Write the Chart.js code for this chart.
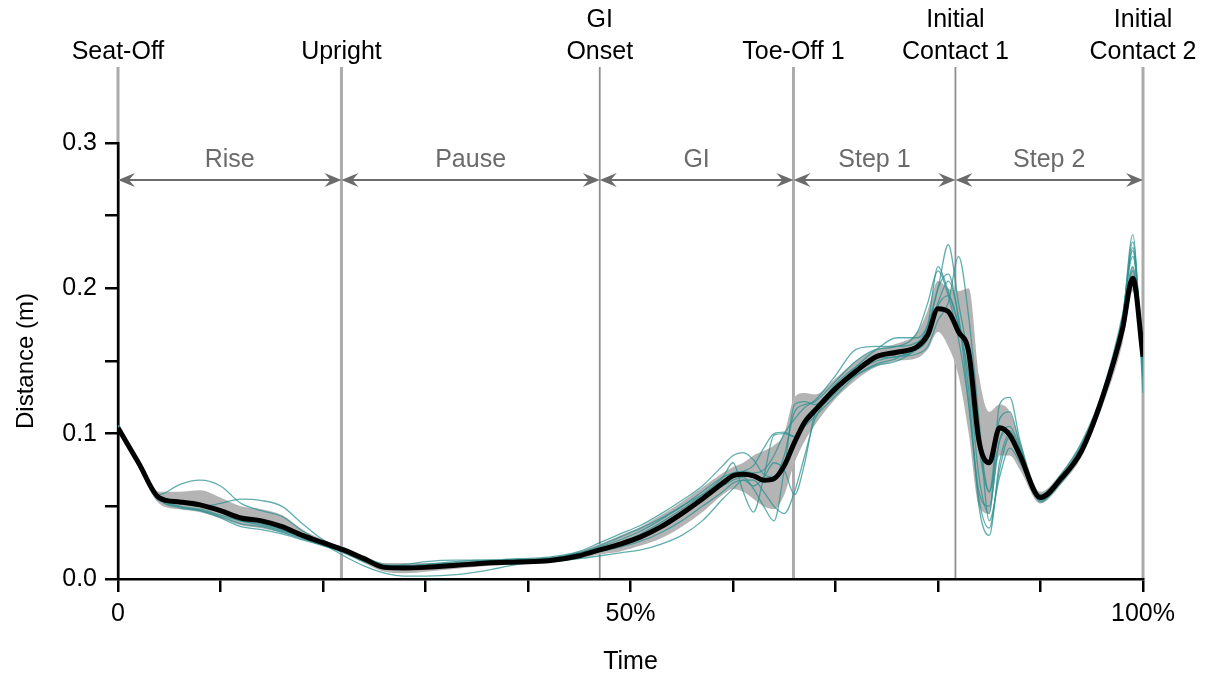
<!DOCTYPE html>
<html>
<head>
<meta charset="utf-8">
<script src="https://cdn.jsdelivr.net/npm/chart.js@4.4.1/dist/chart.umd.min.js"></script>
<style>
  body { margin: 0; background: #fff; }
  #wrap { width: 1213px; height: 680px; position: relative; }
</style>
</head>
<body>
<div id="wrap"><canvas id="myChart"></canvas></div>
<script>
// time (% of task) sampled for every curve
var xs = [0, 2, 4, 6, 8, 10, 12, 14, 16, 18,
          20, 22, 24, 26, 28, 30, 33, 36, 39, 42,
          45, 47, 49, 51, 53, 55, 57, 59, 60, 61,
          62, 63, 64, 65, 66, 67, 68, 70, 72, 74,
          76, 78, 79, 80, 81, 82, 83, 84, 85, 86,
          87, 88, 90, 92, 94, 96, 98, 99, 100]

var meanDist = [0.104, 0.080, 0.056, 0.053, 0.051, 0.047, 0.042, 0.040, 0.036, 0.030,
                0.025, 0.020, 0.014, 0.008, 0.0076, 0.008, 0.0094, 0.011, 0.0117, 0.0125,
                0.016, 0.020, 0.024, 0.029, 0.036, 0.045, 0.055, 0.066, 0.071, 0.072,
                0.071, 0.068, 0.069, 0.078, 0.094, 0.108, 0.116, 0.131, 0.143, 0.153,
                0.156, 0.160, 0.168, 0.186, 0.184, 0.170, 0.156, 0.095, 0.080, 0.104,
                0.099, 0.085, 0.056, 0.069, 0.088, 0.124, 0.172, 0.207, 0.153]

var bandHigh = [0.106, 0.082, 0.060, 0.060, 0.061, 0.056, 0.050, 0.048, 0.044, 0.034,
                0.027, 0.022, 0.016, 0.011, 0.011, 0.011, 0.012, 0.013, 0.014, 0.015,
                0.019, 0.024, 0.030, 0.036, 0.044, 0.053, 0.063, 0.073, 0.077, 0.080,
                0.085, 0.088, 0.092, 0.100, 0.125, 0.128, 0.127, 0.138, 0.150, 0.158,
                0.162, 0.170, 0.185, 0.205, 0.200, 0.198, 0.200, 0.140, 0.115, 0.120,
                0.115, 0.095, 0.060, 0.073, 0.094, 0.128, 0.180, 0.215, 0.165]

var bandLow = [0.102, 0.077, 0.052, 0.048, 0.046, 0.042, 0.037, 0.035, 0.032, 0.027,
               0.023, 0.018, 0.011, 0.005, 0.004, 0.005, 0.007, 0.009, 0.010, 0.011,
               0.014, 0.017, 0.019, 0.023, 0.028, 0.036, 0.046, 0.058, 0.062, 0.060,
               0.055, 0.050, 0.048, 0.058, 0.080, 0.095, 0.106, 0.124, 0.137, 0.146,
               0.150, 0.152, 0.158, 0.170, 0.160, 0.140, 0.100, 0.050, 0.045, 0.085,
               0.085, 0.075, 0.052, 0.065, 0.084, 0.118, 0.162, 0.198, 0.140]

// single trials
var trial1 = [0.106, 0.080, 0.058, 0.065, 0.068, 0.064, 0.052, 0.047, 0.043, 0.033,
              0.025, 0.019, 0.012, 0.009, 0.010, 0.012, 0.013, 0.013, 0.014, 0.015,
              0.019, 0.025, 0.031, 0.037, 0.045, 0.054, 0.064, 0.078, 0.085, 0.087,
              0.082, 0.072, 0.070, 0.085, 0.115, 0.120, 0.122, 0.136, 0.150, 0.158,
              0.160, 0.170, 0.190, 0.212, 0.195, 0.165, 0.120, 0.060, 0.050, 0.095,
              0.105, 0.090, 0.058, 0.072, 0.094, 0.128, 0.182, 0.222, 0.160]
var trial2 = [0.103, 0.078, 0.054, 0.052, 0.050, 0.052, 0.055, 0.054, 0.050, 0.038,
              0.027, 0.021, 0.015, 0.010, 0.009, 0.010, 0.011, 0.012, 0.013, 0.014,
              0.018, 0.022, 0.027, 0.033, 0.041, 0.050, 0.058, 0.066, 0.070, 0.074,
              0.078, 0.090, 0.100, 0.101, 0.098, 0.110, 0.118, 0.131, 0.146, 0.158,
              0.166, 0.166, 0.175, 0.200, 0.230, 0.190, 0.150, 0.090, 0.060, 0.110,
              0.115, 0.092, 0.055, 0.068, 0.092, 0.125, 0.178, 0.215, 0.150]
var trial3 = [0.104, 0.080, 0.055, 0.050, 0.048, 0.044, 0.040, 0.037, 0.033, 0.029,
              0.024, 0.016, 0.009, 0.004, 0.002, 0.002, 0.003, 0.006, 0.010, 0.012,
              0.014, 0.016, 0.018, 0.020, 0.024, 0.030, 0.040, 0.055, 0.062, 0.068,
              0.068, 0.060, 0.050, 0.045, 0.060, 0.085, 0.110, 0.128, 0.142, 0.150,
              0.153, 0.155, 0.160, 0.178, 0.190, 0.222, 0.180, 0.110, 0.040, 0.070,
              0.090, 0.080, 0.054, 0.066, 0.088, 0.120, 0.176, 0.237, 0.128]
var trial4 = [0.105, 0.079, 0.057, 0.054, 0.052, 0.046, 0.041, 0.039, 0.034, 0.029,
              0.024, 0.019, 0.013, 0.008, 0.007, 0.008, 0.010, 0.012, 0.013, 0.013,
              0.017, 0.021, 0.025, 0.030, 0.037, 0.046, 0.055, 0.064, 0.068, 0.070,
              0.062, 0.050, 0.040, 0.075, 0.120, 0.122, 0.120, 0.134, 0.146, 0.152,
              0.153, 0.158, 0.165, 0.188, 0.195, 0.175, 0.140, 0.070, 0.045, 0.120,
              0.125, 0.095, 0.053, 0.070, 0.092, 0.126, 0.180, 0.232, 0.140]
var trial5 = [0.104, 0.079, 0.056, 0.050, 0.047, 0.043, 0.038, 0.036, 0.032, 0.028,
              0.023, 0.018, 0.012, 0.008, 0.008, 0.009, 0.010, 0.012, 0.013, 0.014,
              0.016, 0.019, 0.022, 0.026, 0.032, 0.040, 0.050, 0.060, 0.066, 0.068,
              0.064, 0.070, 0.080, 0.075, 0.058, 0.080, 0.114, 0.130, 0.140, 0.147,
              0.150, 0.160, 0.172, 0.200, 0.210, 0.180, 0.130, 0.050, 0.030, 0.080,
              0.100, 0.085, 0.056, 0.068, 0.088, 0.122, 0.174, 0.212, 0.150]
var trial6 = [0.104, 0.078, 0.055, 0.053, 0.051, 0.046, 0.040, 0.038, 0.034, 0.029,
              0.024, 0.019, 0.013, 0.008, 0.008, 0.009, 0.009, 0.010, 0.011, 0.013,
              0.016, 0.020, 0.025, 0.031, 0.039, 0.048, 0.058, 0.070, 0.080, 0.060,
              0.046, 0.070, 0.099, 0.100, 0.098, 0.105, 0.112, 0.126, 0.140, 0.148,
              0.152, 0.162, 0.175, 0.215, 0.198, 0.175, 0.155, 0.100, 0.060, 0.095,
              0.102, 0.088, 0.055, 0.070, 0.090, 0.124, 0.178, 0.228, 0.145]
var trial7 = [0.105, 0.079, 0.055, 0.049, 0.047, 0.042, 0.036, 0.034, 0.031, 0.027,
              0.023, 0.019, 0.013, 0.009, 0.009, 0.010, 0.012, 0.013, 0.013, 0.014,
              0.018, 0.023, 0.029, 0.035, 0.042, 0.050, 0.060, 0.070, 0.073, 0.074,
              0.073, 0.075, 0.085, 0.100, 0.110, 0.118, 0.123, 0.140, 0.158, 0.160,
              0.160, 0.163, 0.170, 0.190, 0.205, 0.180, 0.120, 0.055, 0.035, 0.075,
              0.098, 0.088, 0.057, 0.070, 0.091, 0.126, 0.180, 0.226, 0.138]
var trials = [trial1, trial2, trial3, trial4, trial5, trial6, trial7]

// gait events and the phases between them
var eventX = [0, 21.8, 47.0, 65.9, 81.7, 100]
var eventNames = [['Seat-Off'], ['Upright'], ['GI', 'Onset'], ['Toe-Off 1'], ['Initial', 'Contact 1'], ['Initial', 'Contact 2']]
var eventThick = [true, true, false, true, false, true]
var phaseNames = ['Rise', 'Pause', 'GI', 'Step 1', 'Step 2']

var xLabelValues = [0, 50, 100]
var xLabelText = ['0', '50%', '100%']
var yLabelValues = [0, 0.1, 0.2, 0.3]
var yLabelText = ['0.0', '0.1', '0.2', '0.3']

var FONT = "'Liberation Sans', Arial, sans-serif"

function pts(ys) {
    return xs.map((x, i) => ({ x: x, y: ys[i] }))
}

function findLabel(values, texts, v) {
    for (var i = 0; i < values.length; i++) {
        if (Math.abs(values[i] - v) < 1e-6) return texts[i]
    }
    return ''
}

function arrowHead(ctx, x, y, dir) {
    // dir = 1 points right, -1 points left
    ctx.beginPath()
    ctx.moveTo(x, y)
    ctx.lineTo(x - dir * 17, y - 7)
    ctx.lineTo(x - dir * 11, y)
    ctx.lineTo(x - dir * 17, y + 7)
    ctx.closePath()
    ctx.fill()
}

const eventsPlugin = {
    id: 'gaitEvents',
    beforeDraw(chart) {
        const { ctx, chartArea, scales: { x } } = chart
        ctx.save()
        eventX.forEach((v, i) => {
            const px = x.getPixelForValue(v)
            ctx.strokeStyle = eventThick[i] ? '#ababab' : '#8e8e8e'
            ctx.lineWidth = eventThick[i] ? 3 : 1.8
            ctx.beginPath()
            ctx.moveTo(px, chartArea.top - 76)
            ctx.lineTo(px, chartArea.bottom)
            ctx.stroke()
        })
        ctx.restore()
    },
    afterDraw(chart) {
        const { ctx, chartArea, scales: { x } } = chart
        ctx.save()
        // phase arrows
        const ay = chartArea.top + 37
        ctx.strokeStyle = '#6b6b6b'
        ctx.fillStyle = '#6b6b6b'
        ctx.lineWidth = 1.8
        for (let i = 0; i < phaseNames.length; i++) {
            const x0 = x.getPixelForValue(eventX[i])
            const x1 = x.getPixelForValue(eventX[i + 1])
            ctx.beginPath()
            ctx.moveTo(x0 + 4, ay)
            ctx.lineTo(x1 - 4, ay)
            ctx.stroke()
            arrowHead(ctx, x0, ay, -1)
            arrowHead(ctx, x1, ay, 1)
            ctx.font = '25px ' + FONT
            ctx.textAlign = 'center'
            ctx.textBaseline = 'middle'
            ctx.fillText(phaseNames[i], (x0 + x1) / 2, chartArea.top + 17)
        }
        // event names
        ctx.fillStyle = '#000'
        ctx.font = '25px ' + FONT
        ctx.textAlign = 'center'
        ctx.textBaseline = 'middle'
        eventNames.forEach((lines, i) => {
            const px = x.getPixelForValue(eventX[i])
            for (let j = 0; j < lines.length; j++) {
                const ly = chartArea.top - 91 - (lines.length - 1 - j) * 32
                ctx.fillText(lines[j], px, ly)
            }
        })
        ctx.restore()
    }
}

const datasets = [{
    data: pts(meanDist),
    borderColor: '#000',
    borderWidth: 5,
    pointRadius: 0,
    cubicInterpolationMode: 'monotone',
    fill: false
}]
trials.forEach((t) => {
    datasets.push({
        data: pts(t),
        borderColor: 'rgba(45, 145, 145, 0.75)',
        borderWidth: 1.3,
        pointRadius: 0,
        cubicInterpolationMode: 'monotone',
        fill: false
    })
})
datasets.push({
    data: pts(bandHigh),
    borderWidth: 0,
    pointRadius: 0,
    cubicInterpolationMode: 'monotone',
    backgroundColor: '#b4b4b4',
    fill: '+1'
})
datasets.push({
    data: pts(bandLow),
    borderWidth: 0,
    pointRadius: 0,
    cubicInterpolationMode: 'monotone',
    fill: false
})

new Chart(document.getElementById('myChart'), {
    type: 'line',
    data: { datasets: datasets },
    plugins: [eventsPlugin],
    options: {
        responsive: true,
        maintainAspectRatio: false,
        animation: false,
        layout: { padding: { top: 143, right: 70, left: 0, bottom: 0 } },
        plugins: { legend: { display: false }, tooltip: { enabled: false } },
        scales: {
            x: {
                type: 'linear',
                min: 0,
                max: 100,
                afterFit: (s) => { s.height = 101 },
                border: { color: '#000', width: 2.5 },
                grid: { drawOnChartArea: false, drawTicks: true, tickLength: 13, color: '#000', lineWidth: 2.5 },
                ticks: {
                    stepSize: 10,
                    autoSkip: false,
                    maxRotation: 0,
                    padding: 7,
                    color: '#000',
                    font: { family: FONT, size: 25 },
                    callback: (v) => findLabel(xLabelValues, xLabelText, v)
                },
                title: { display: true, text: 'Time', color: '#000', font: { family: FONT, size: 25 }, padding: { top: 0, bottom: 3 } }
            },
            y: {
                min: 0,
                max: 0.3,
                afterFit: (s) => { s.width = 118 },
                border: { color: '#000', width: 2.5 },
                grid: { drawOnChartArea: false, drawTicks: true, tickLength: 13, color: '#000', lineWidth: 2.5 },
                ticks: {
                    stepSize: 0.05,
                    autoSkip: false,
                    padding: 8,
                    color: '#000',
                    font: { family: FONT, size: 25 },
                    callback: (v) => findLabel(yLabelValues, yLabelText, v)
                },
                title: { display: true, text: 'Distance (m)', color: '#000', font: { family: FONT, size: 24 }, padding: { top: 12, bottom: 0 } }
            }
        }
    }
})
</script>
</body>
</html>
